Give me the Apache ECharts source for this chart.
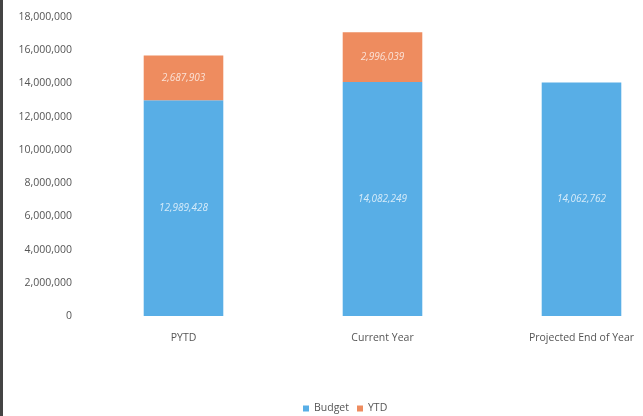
<!DOCTYPE html>
<html><head><meta charset="utf-8">
<script src="https://cdn.jsdelivr.net/npm/echarts@6/dist/echarts.min.js"></script>
<style>html,body{margin:0;padding:0;background:#fff;overflow:hidden;width:643px;height:416px}#c{width:690px;height:416px}</style>
</head><body><div id="c"></div>
<script>
var categories = ['PYTD', 'Current Year', 'Projected End of Year'];
var budget = [12989428, 14082249, 14062762];
var ytd = [2687903, 2996039, null];
var yTicks = [0, 2000000, 4000000, 6000000, 8000000, 10000000, 12000000, 14000000, 16000000, 18000000];

function fmt(v){ return v.toLocaleString('en-US'); }
var chart = echarts.init(document.getElementById('c'), null, {renderer:'canvas'});
var lbl = {show:true, position:'inside', color:'rgba(255,255,255,0.75)', fontStyle:'italic', fontSize:10, fontFamily:'Open Sans', formatter:function(p){return fmt(p.value);}};
chart.setOption({
  animation:false,
  textStyle:{fontFamily:'Open Sans'},
  grid:{left:84, right:9, top:17, bottom:100},
  legend:{top:398, left:298, itemWidth:6, itemHeight:6, itemGap:8, icon:'rect', textStyle:{color:'#555', fontSize:10.5}, data:['Budget','YTD']},
  xAxis:{type:'category', data:categories, axisLine:{show:false}, axisTick:{show:false}, axisLabel:{color:'#555', fontSize:10.5, margin:17}},
  yAxis:{type:'value', min:yTicks[0], max:yTicks[yTicks.length-1], interval:2000000, splitLine:{show:false}, axisLine:{show:false}, axisTick:{show:false}, axisLabel:{color:'#555', fontSize:10.5, margin:12, formatter:function(v){return fmt(v);}}},
  series:[
    {name:'Budget', type:'bar', stack:'s', data:budget, barWidth:'40%', itemStyle:{color:'#58aee6'}, label:lbl},
    {name:'YTD', type:'bar', stack:'s', data:ytd, barWidth:'40%', itemStyle:{color:'#ee8c5f'}, label:lbl}
  ],
  graphic:[{type:'rect', left:0, top:0, shape:{width:3, height:416}, style:{fill:'#444'}}]
});
</script></body></html>
